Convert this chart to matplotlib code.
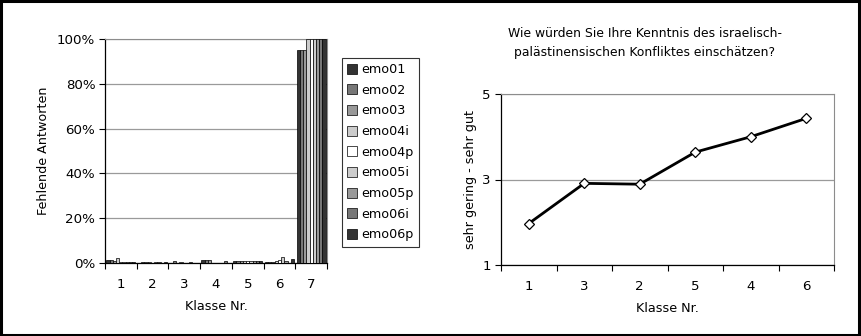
import matplotlib
matplotlib.use("Agg")
import matplotlib.pyplot as plt
import numpy as np
from matplotlib.patches import Rectangle

plt.rcParams['font.family'] = ['DejaVu Sans']

# ---- Data: left chart (missing answers per class) ----
classes = ["1", "2", "3", "4", "5", "6", "7"]
series_names = ["emo01", "emo02", "emo03", "emo04i", "emo04p", "emo05i", "emo05p", "emo06i", "emo06p"]
series_colors = ["#333333", "#777777", "#999999", "#cccccc", "#ffffff", "#cccccc", "#999999", "#777777", "#333333"]
emo01  = [1.5, 0.0, 0.0, 1.5, 0.8, 0.5, 95]
emo02  = [1.5, 0.5, 1.0, 1.5, 0.8, 0.5, 95]
emo03  = [1.0, 0.5, 0.0, 1.5, 0.8, 0.5, 95]
emo04i = [2.3, 0.5, 0.5, 0.0, 0.8, 1.0, 100]
emo04p = [0.5, 0.0, 0.0, 0.0, 0.8, 1.5, 100]
emo05i = [0.5, 0.5, 0.0, 0.0, 1.0, 2.5, 100]
emo05p = [0.5, 0.5, 0.5, 0.0, 1.0, 1.0, 100]
emo06i = [0.5, 0.0, 0.0, 1.0, 1.0, 0.0, 100]
emo06p = [0.5, 0.5, 0.0, 0.0, 1.0, 2.0, 100]
series_values = [emo01, emo02, emo03, emo04i, emo04p, emo05i, emo05p, emo06i, emo06p]

# ---- Data: right chart ----
line_categories = ["1", "3", "2", "5", "4", "6"]
line_values = [1.97, 2.91, 2.89, 3.64, 4.00, 4.43]
right_title = "Wie würden Sie Ihre Kenntnis des israelisch-\npalästinensischen Konfliktes einschätzen?"

W, H = 861, 336
fig = plt.figure(figsize=(W / 100, H / 100), dpi=100)
fig.patch.set_facecolor("white")
fig.add_artist(Rectangle((0.001, 0.002), 0.997, 0.995, transform=fig.transFigure,
                         fill=False, edgecolor="black", linewidth=2.2))

def px(l, t, r, b):
    return [l / W, 1 - b / H, (r - l) / W, (b - t) / H]

fs = 9.2
tfs = 9.6
# ---------------- Left chart ----------------
ax = fig.add_axes(px(105, 39, 327, 263))
n = len(series_names)
group_w = 0.92
bw = group_w / n
x = np.arange(len(classes))
handles = []
for i, (name, vals, col) in enumerate(zip(series_names, series_values, series_colors)):
    h = ax.bar(x - group_w / 2 + bw * (i + 0.5), vals, width=bw, color=col,
               edgecolor="black", linewidth=0.5, label=name, zorder=3)
    handles.append(h)
ax.set_xlim(-0.5, len(classes) - 0.5)
ax.set_ylim(0, 100)
ax.set_yticks(np.arange(0, 101, 20))
ax.set_yticklabels([f"{v}%" for v in range(0, 101, 20)], fontsize=tfs)
ax.yaxis.grid(True, color="#9a9a9a", linewidth=0.9, zorder=0)
ax.set_xticks(np.arange(-0.5, len(classes), 1))
ax.set_xticklabels([])
ax.set_xticks(x, minor=True)
ax.set_xticklabels(classes, minor=True, fontsize=tfs)
ax.tick_params(axis="x", which="minor", length=0, pad=11)
ax.tick_params(axis="x", which="major", length=4, direction="out", width=0.8)
ax.tick_params(axis="y", length=4, direction="out", width=0.8, pad=3)
ax.set_ylabel("Fehlende Antworten", fontsize=fs, labelpad=5)
ax.set_xlabel("Klasse Nr.", fontsize=fs, labelpad=6)
for s in ["top", "right"]:
    ax.spines[s].set_color("#8c8c8c")
for s in ["left", "bottom"]:
    ax.spines[s].set_color("black")
    ax.spines[s].set_linewidth(0.9)

leg = fig.legend(handles=handles, labels=series_names, loc="upper left",
                 bbox_to_anchor=(342 / W, 1 - 58 / H), borderaxespad=0,
                 fontsize=fs, frameon=True, fancybox=False, handlelength=0.8,
                 handleheight=0.8, handletextpad=0.3, labelspacing=0.6,
                 borderpad=0.4)
leg.get_frame().set_edgecolor("black")
leg.get_frame().set_linewidth(0.8)

# ---------------- Right chart ----------------
ax2 = fig.add_axes(px(501, 94, 834, 265))
xi = np.arange(len(line_categories))
ax2.plot(xi, line_values, color="black", linewidth=2, marker="D", markersize=5,
         markerfacecolor="white", markeredgecolor="black", markeredgewidth=0.9, zorder=3)
ax2.set_xlim(-0.5, len(line_categories) - 0.5)
ax2.set_ylim(1, 5)
ax2.set_yticks([1, 3, 5])
ax2.set_yticklabels(["1", "3", "5"], fontsize=tfs)
ax2.yaxis.grid(True, color="#9a9a9a", linewidth=0.9, zorder=0)
ax2.set_xticks(np.arange(-0.5, len(line_categories), 1))
ax2.set_xticklabels([])
ax2.set_xticks(xi, minor=True)
ax2.set_xticklabels(line_categories, minor=True, fontsize=tfs)
ax2.tick_params(axis="x", which="minor", length=0, pad=11)
ax2.tick_params(axis="x", which="major", length=4, direction="out", width=0.8)
ax2.tick_params(axis="y", length=4, direction="out", width=0.8)
ax2.set_ylabel("sehr gering - sehr gut", fontsize=fs)
ax2.set_xlabel("Klasse Nr.", fontsize=fs, labelpad=6)
for s in ["top", "right"]:
    ax2.spines[s].set_color("#8c8c8c")
for s in ["left", "bottom"]:
    ax2.spines[s].set_color("black")
    ax2.spines[s].set_linewidth(0.9)
fig.text(645 / W, 1 - 43 / H, right_title, ha="center", va="center",
         fontsize=8.9, linespacing=1.6)

fig.savefig("out.png", dpi=100)
